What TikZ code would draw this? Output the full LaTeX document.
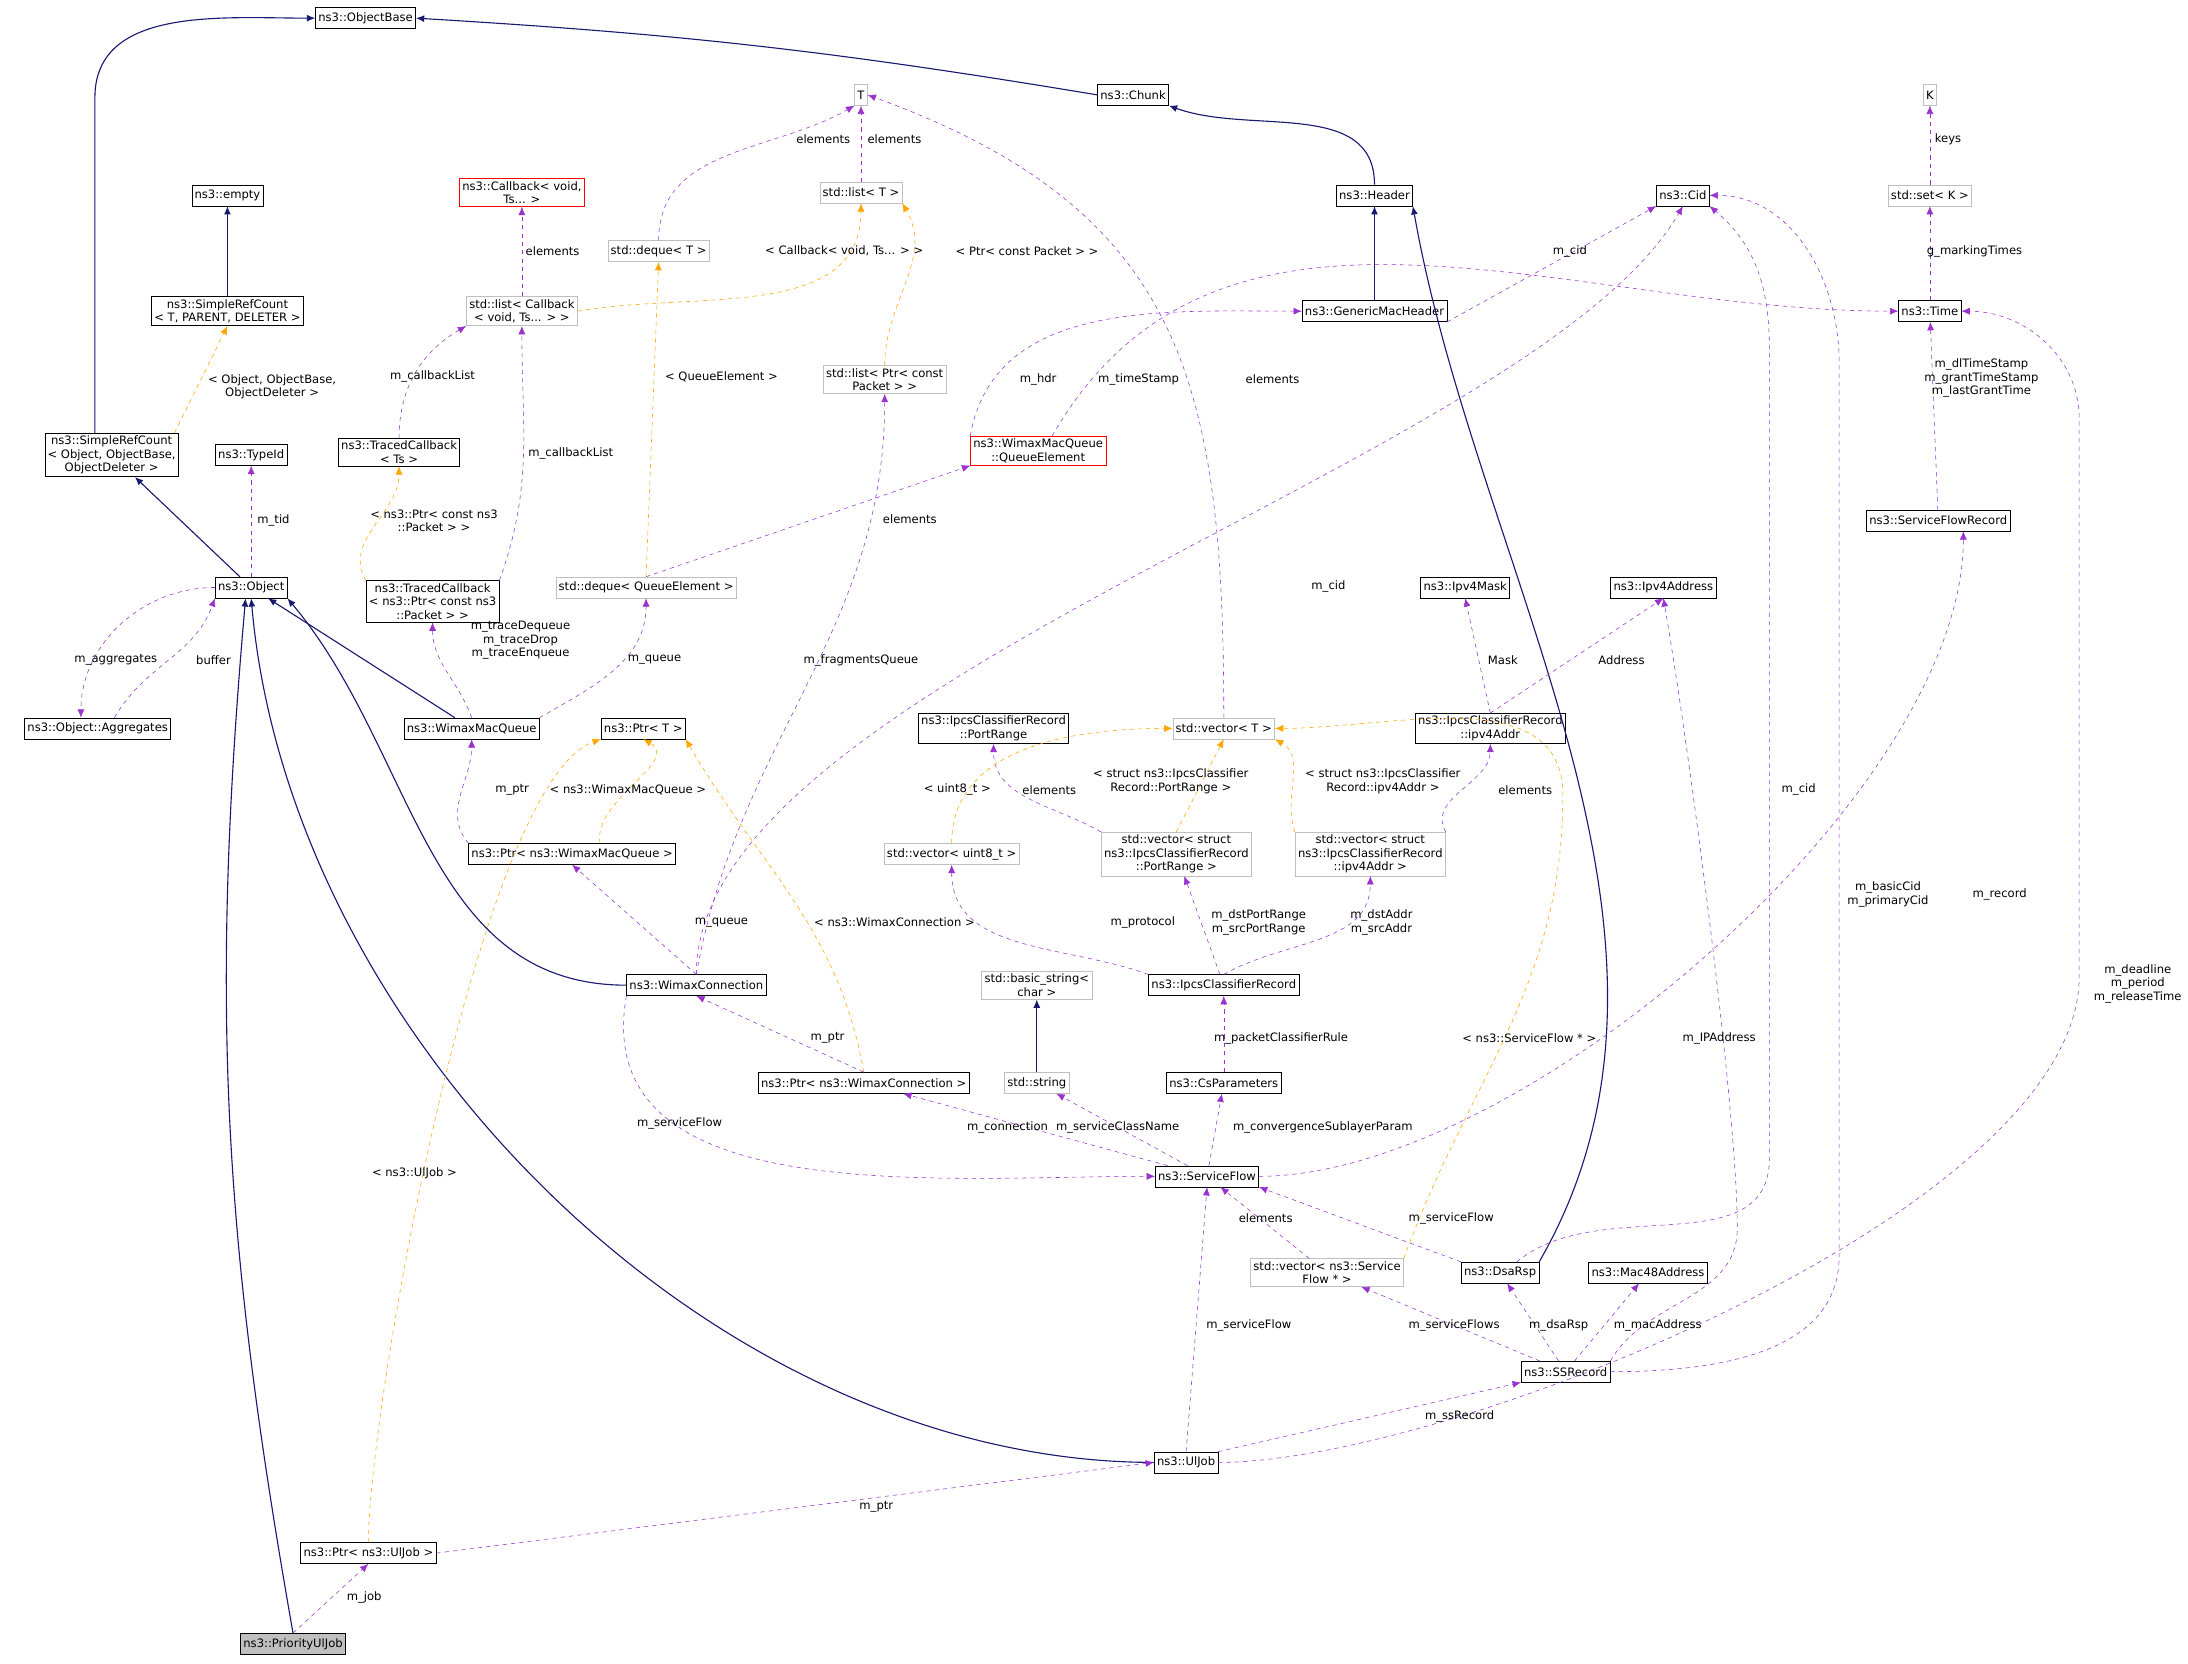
\documentclass[tikz,border=0pt]{standalone}
\usepackage{fontspec}
\setmainfont{DejaVu Sans}
\usetikzlibrary{arrows.meta}
\definecolor{inhcol}{HTML}{191970}
\definecolor{usecol}{HTML}{9A32CD}
\definecolor{tplcol}{HTML}{FFA500}
\definecolor{extcol}{HTML}{BFBFBF}
\tikzset{
  cls/.style={draw=black,fill=white,font=\fontsize{8.3}{9.6}\selectfont,align=center,inner sep=2pt,minimum height=15pt},
  ext/.style={cls,draw=extcol},
  redbox/.style={cls,draw=red},
  inh/.style={draw=inhcol,thick,-{Latex[length=6pt,width=5pt]}},
  use/.style={draw=usecol,dashed,-{Latex[length=6pt,width=5pt]}},
  tpl/.style={draw=tplcol,dashed,-{Latex[length=6pt,width=5pt]}},
  lbl/.style={font=\fontsize{8.3}{9.6}\selectfont,align=center,inner sep=0pt}
}
\begin{document}
\begin{tikzpicture}[x=1pt,y=-1pt]
\useasboundingbox (0,0) rectangle (1568,1192);

% classes
\node[cls] (ObjectBase) at (262,13) {ns3::ObjectBase};
\node[cls] (Chunk) at (812,68) {ns3::Chunk};
\node[ext] (T) at (617,68) {T};
\node[ext] (K) at (1383,68) {K};
\node[cls] (Empty) at (163,140) {ns3::empty};
\node[redbox] (CallbackVoid) at (374,138) {ns3::Callback< void,\\Ts... >};
\node[ext] (ListT) at (617,138) {std::list< T >};
\node[cls] (Header) at (985,140) {ns3::Header};
\node[cls] (Cid) at (1206,140) {ns3::Cid};
\node[ext] (SetK) at (1383,140) {std::set< K >};
\node[cls] (SrcT) at (163,223) {ns3::SimpleRefCount\\< T, PARENT, DELETER >};
\node[ext] (DequeT) at (472,180) {std::deque< T >};
\node[ext] (ListCb) at (374,223) {std::list< Callback\\< void, Ts... > >};
\node[cls] (GenMac) at (985,223) {ns3::GenericMacHeader};
\node[cls] (Time) at (1383,223) {ns3::Time};
\node[ext] (ListPtr) at (634,272) {std::list< Ptr< const\\Packet > >};
\node[cls] (SrcObj) at (80,326) {ns3::SimpleRefCount\\< Object, ObjectBase,\\ObjectDeleter >};
\node[cls] (TypeId) at (180,326) {ns3::TypeId};
\node[cls] (TcTs) at (286,324) {ns3::TracedCallback\\< Ts >};
\node[redbox] (QElem) at (744,323) {ns3::WimaxMacQueue\\::QueueElement};
\node[cls] (SfRecord) at (1389,373) {ns3::ServiceFlowRecord};
\node[cls] (Object) at (180,421) {ns3::Object};
\node[cls] (TcPtr) at (310,431) {ns3::TracedCallback\\< ns3::Ptr< const ns3\\::Packet > >};
\node[ext] (DequeQE) at (463,421) {std::deque< QueueElement >};
\node[cls] (Mask) at (1050,421) {ns3::Ipv4Mask};
\node[cls] (Ipv4Address) at (1192,421) {ns3::Ipv4Address};
\node[cls] (Aggr) at (70,522) {ns3::Object::Aggregates};
\node[cls] (MacQueue) at (338,522) {ns3::WimaxMacQueue};
\node[cls] (PtrT) at (461,522) {ns3::Ptr< T >};
\node[cls] (PortRange) at (712,522) {ns3::IpcsClassifierRecord\\::PortRange};
\node[ext] (VecT) at (877,522) {std::vector< T >};
\node[cls] (Ipv4Addr) at (1068,522) {ns3::IpcsClassifierRecord\\::ipv4Addr};
\node[ext] (VecU8) at (682,612) {std::vector< uint8\_t >};
\node[ext] (VecPort) at (843,612) {std::vector< struct\\ns3::IpcsClassifierRecord\\::PortRange >};
\node[ext] (VecIp) at (982,612) {std::vector< struct\\ns3::IpcsClassifierRecord\\::ipv4Addr >};
\node[cls] (PtrQueue) at (410,612) {ns3::Ptr< ns3::WimaxMacQueue >};
\node[cls] (Conn) at (499,706) {ns3::WimaxConnection};
\node[ext] (BasicStr) at (743,706) {std::basic\_string<\\char >};
\node[cls] (Ipcs) at (877,706) {ns3::IpcsClassifierRecord};
\node[cls] (PtrConn) at (619,776) {ns3::Ptr< ns3::WimaxConnection >};
\node[ext] (Str) at (743,776) {std::string};
\node[cls] (CsParam) at (877,776) {ns3::CsParameters};
\node[cls] (Sf) at (865,843) {ns3::ServiceFlow};
\node[ext] (VecSf) at (951,912) {std::vector< ns3::Service\\Flow * >};
\node[cls] (DsaRsp) at (1075,912) {ns3::DsaRsp};
\node[cls] (Mac48) at (1181,912) {ns3::Mac48Address};
\node[cls] (SsRec) at (1122,983) {ns3::SSRecord};
\node[cls] (UlJob) at (850,1048) {ns3::UlJob};
\node[cls] (PtrUl) at (264,1113) {ns3::Ptr< ns3::UlJob >};
\node[cls,fill=extcol] (PrioJob) at (210,1178) {ns3::PriorityUlJob};

% inheritance
\draw[inh] (Chunk.west) to[bend right=3] (ObjectBase.east);
\draw[inh] ([xshift=-12pt]SrcObj.north) -- (68,70) to[out=90,in=180] (ObjectBase.west);
\draw[inh] (Header.north) to[out=90,in=-20] (Chunk.south east);
\draw[inh] (GenMac) -- (Header);
\draw[inh] (SrcT) -- (Empty);
\draw[inh] (Object) -- (SrcObj);
\draw[inh] (MacQueue) -- (Object);
\draw[inh] (Conn.west) to[out=180,in=-50] (Object.south east);
\draw[inh] (UlJob.west) to[out=180,in=-85,looseness=0.9] (Object.south);
\draw[inh] (PrioJob.north) to[out=100,in=-95] ([xshift=-4pt]Object.south);
\draw[inh] (DsaRsp.north east) to[out=60,in=-80,looseness=0.9] (Header.south east);
\draw[inh] (Str) -- (BasicStr);

% usage
\draw[use] (DequeT.north) to[out=90,in=-150] (T.south west);
\draw[use] (ListT) -- (T);
\draw[use] (VecT.north) to[out=90,in=-20,looseness=1.2] (T.east);
\draw[use] (SetK) -- (K);
\draw[use] (ListCb) -- (CallbackVoid);
\draw[use] (Time) -- (SetK);
\draw[use] (GenMac.south east) -- (Cid.south west);
\draw[use] (TcTs.north) to[out=90,in=-150] (ListCb.south west);
\draw[use] (TcPtr.north east) to[out=70,in=-90] (ListCb.south);
\draw[use] (QElem.north west) to[out=80,in=180] (GenMac.west);
\draw[use] ([xshift=10pt]QElem.north) to[out=60,in=180] (Time.west);
\draw[use] (SfRecord) -- (Time);
\draw[use] (Object) -- (TypeId);
\draw[use] (Object.west) to[out=180,in=90] ([xshift=-12pt]Aggr.north);
\draw[use] ([xshift=12pt]Aggr.north) to[out=60,in=-110] (Object.south west);
\draw[use] (DequeQE.north) -- (QElem.south west);
\draw[use] (MacQueue.north) to[out=110,in=-90] (TcPtr.south);
\draw[use] (MacQueue.north east) to[out=30,in=-90] (DequeQE.south);
\draw[use] (PtrQueue.north west) to[out=130,in=-90] (MacQueue.south);
\draw[use] (Conn.north) -- (PtrQueue.south);
\draw[use] (Conn.north) to[out=80,in=-90] (ListPtr.south);
\draw[use] (Conn.north) to[out=90,in=-120,looseness=0.6] (Cid.south);
\draw[use] (PtrConn.north) -- (Conn.south);
\draw[use] (Conn.south west) to[out=-100,in=180] (Sf.west);
\draw[use] (Sf) -- (PtrConn);
\draw[use] (Sf) -- (Str);
\draw[use] (Sf) -- (CsParam);
\draw[use] (Sf.east) to[out=0,in=-90,looseness=0.7] ([xshift=18pt]SfRecord.south);
\draw[use] (CsParam) -- (Ipcs);
\draw[use] (Ipcs.north west) to[out=160,in=-90] (VecU8.south);
\draw[use] (Ipcs) -- (VecPort);
\draw[use] (Ipcs.north) to[out=30,in=-90] (VecIp.south);
\draw[use] (VecPort.north west) to[out=150,in=-90] (PortRange.south);
\draw[use] (VecIp.north east) to[out=120,in=-90] (Ipv4Addr.south);
\draw[use] (Ipv4Addr.north) -- (Mask.south);
\draw[use] (Ipv4Addr.north) -- (Ipv4Address.south);
\draw[use] (VecSf) -- (Sf);
\draw[use] (DsaRsp.north west) -- (Sf.south east);
\draw[use] ([xshift=12pt]DsaRsp.north) to[out=40,in=-90] (1268,830) -- (1268,250) to[out=90,in=-40] (Cid.south east);
\draw[use] (SsRec) -- (VecSf);
\draw[use] (SsRec) -- (DsaRsp);
\draw[use] (SsRec) -- (Mac48);
\draw[use] (SsRec.north east) to[out=60,in=-90] (1245,880) to[out=90,in=-80,looseness=0.5] (Ipv4Address.south);
\draw[use] (SsRec.east) to[out=0,in=-90] (1318,900) -- (1318,260) to[out=90,in=0] (Cid.east);
\draw[use] (UlJob.east) to[out=0,in=-90,looseness=0.6] (1490,700) -- (1490,300) to[out=90,in=0] (Time.east);
\draw[use] (UlJob.north) -- (Sf.south);
\draw[use] (UlJob.north east) -- (SsRec.south west);
\draw[use] (PtrUl.east) -- (UlJob.west);
\draw[use] (PrioJob.north) -- (PtrUl.south);

% templates
\draw[tpl] (ListCb.east) to[out=10,in=-90] (ListT.south);
\draw[tpl] (ListPtr.north) to[out=90,in=-60] (ListT.south east);
\draw[tpl] (DequeQE.north) -- (DequeT.south);
\draw[tpl] ([xshift=45pt]SrcObj.north) -- (SrcT.south);
\draw[tpl] (TcPtr.north west) to[out=120,in=-90] (TcTs.south);
\draw[tpl] ([xshift=20pt]PtrQueue.north) to[out=100,in=-30] (PtrT.south);
\draw[tpl] (PtrConn.north) to[out=100,in=-60] (PtrT.south east);
\draw[tpl] (PtrUl.north) to[out=90,in=200,looseness=0.4] (PtrT.south west);
\draw[tpl] (VecU8.north) to[out=90,in=180] (VecT.west);
\draw[tpl] (VecPort.north) -- (VecT.south);
\draw[tpl] (VecIp.north west) to[out=110,in=-30] (VecT.south east);
\draw[tpl] (VecSf.north east) to[out=70,in=-90] (1120,570) to[out=90,in=0] (VecT.east);

% labels
\node[lbl] (l1) at (590,100) {elements};
\node[lbl] (l2) at (641,100) {elements};
\node[lbl] (l3) at (1396,100) {keys};
\node[lbl] (l4) at (396,180) {elements};
\node[lbl] (l5) at (605,180) {< Callback< void, Ts... > >};
\node[lbl] (l6) at (736,180) {< Ptr< const Packet > >};
\node[lbl] (l7) at (1415,180) {g\_markingTimes};
\node[lbl] (l8) at (1125,180) {m\_cid};
\node[lbl] (l9) at (517,270) {< QueueElement >};
\node[lbl] (l10) at (744,272) {m\_hdr};
\node[lbl] (l11) at (816,272) {m\_timeStamp};
\node[lbl] (l12) at (912,272) {elements};
\node[lbl] (l13) at (1420,271) {m\_dlTimeStamp\\m\_grantTimeStamp\\m\_lastGrantTime};
\node[lbl] (l14) at (195,277) {< Object, ObjectBase,\\ObjectDeleter >};
\node[lbl] (l15) at (310,270) {m\_callbackList};
\node[lbl] (l16) at (409,325) {m\_callbackList};
\node[lbl] (l17) at (196,373) {m\_tid};
\node[lbl] (l18) at (311,373) {< ns3::Ptr< const ns3\\::Packet > >};
\node[lbl] (l19) at (652,372) {elements};
\node[lbl] (l20) at (952,420) {m\_cid};
\node[lbl] (l21) at (83,473) {m\_aggregates};
\node[lbl] (l22) at (153,473) {buffer};
\node[lbl] (l23) at (373,459) {m\_traceDequeue\\m\_traceDrop\\m\_traceEnqueue};
\node[lbl] (l24) at (469,473) {m\_queue};
\node[lbl] (l25) at (617,473) {m\_fragmentsQueue};
\node[lbl] (l26) at (1077,473) {Mask};
\node[lbl] (l27) at (1162,473) {Address};
\node[lbl] (l28) at (367,566) {m\_ptr};
\node[lbl] (l29) at (450,566) {< ns3::WimaxMacQueue >};
\node[lbl] (l30) at (686,566) {< uint8\_t >};
\node[lbl] (l31) at (752,566) {elements};
\node[lbl] (l32) at (839,560) {< struct ns3::IpcsClassifier\\Record::PortRange >};
\node[lbl] (l33) at (991,560) {< struct ns3::IpcsClassifier\\Record::ipv4Addr >};
\node[lbl] (l34) at (1093,566) {elements};
\node[lbl] (l35) at (1289,566) {m\_cid};
\node[lbl] (l36) at (1353,641) {m\_basicCid\\m\_primaryCid};
\node[lbl] (l37) at (1433,641) {m\_record};
\node[lbl] (l38) at (517,661) {m\_queue};
\node[lbl] (l39) at (641,661) {< ns3::WimaxConnection >};
\node[lbl] (l40) at (819,661) {m\_protocol};
\node[lbl] (l41) at (902,661) {m\_dstPortRange\\m\_srcPortRange};
\node[lbl] (l42) at (990,661) {m\_dstAddr\\m\_srcAddr};
\node[lbl] (l43) at (1532,705) {m\_deadline\\m\_period\\m\_releaseTime};
\node[lbl] (l44) at (1096,744) {< ns3::ServiceFlow * >};
\node[lbl] (l45) at (1232,744) {m\_IPAddress};
\node[lbl] (l46) at (593,744) {m\_ptr};
\node[lbl] (l47) at (918,744) {m\_packetClassifierRule};
\node[lbl] (l48) at (487,805) {m\_serviceFlow};
\node[lbl] (l49) at (722,808) {m\_connection};
\node[lbl] (l50) at (801,808) {m\_serviceClassName};
\node[lbl] (l51) at (948,808) {m\_convergenceSublayerParam};
\node[lbl] (l52) at (297,841) {< ns3::UlJob >};
\node[lbl] (l53) at (907,873) {elements};
\node[lbl] (l54) at (1040,873) {m\_serviceFlow};
\node[lbl] (l55) at (895,950) {m\_serviceFlow};
\node[lbl] (l56) at (1042,950) {m\_serviceFlows};
\node[lbl] (l57) at (1117,950) {m\_dsaRsp};
\node[lbl] (l58) at (1188,950) {m\_macAddress};
\node[lbl] (l59) at (1046,1015) {m\_ssRecord};
\node[lbl] (l60) at (628,1080) {m\_ptr};
\node[lbl] (l61) at (261,1145) {m\_job};
\end{tikzpicture}
\end{document}
